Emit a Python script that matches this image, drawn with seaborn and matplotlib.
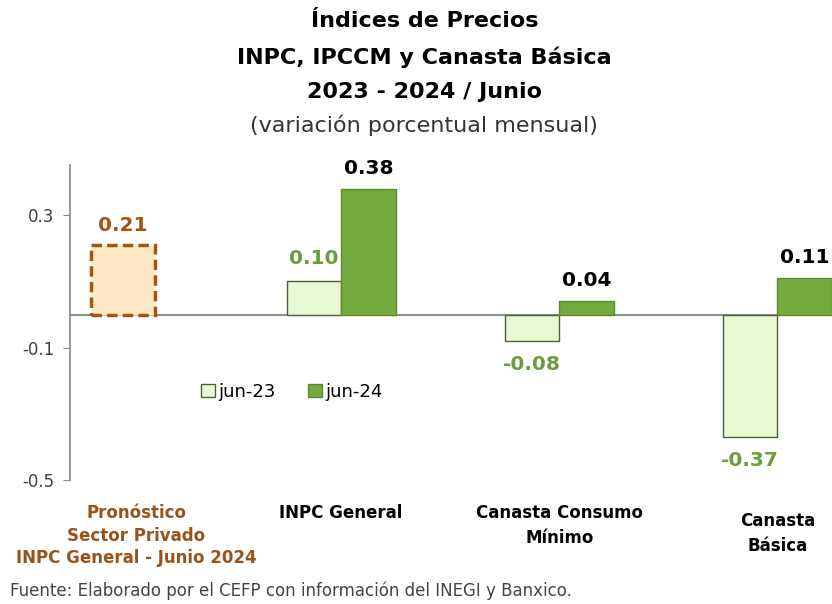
import pandas as pd
import numpy as np
import matplotlib
matplotlib.use("Agg")
import matplotlib.pyplot as plt
import matplotlib.transforms as mtransforms
import seaborn as sns
from matplotlib.patches import Patch

# datos
forecast_label = "Pronóstico\nSector Privado\nINPC General - Junio 2024"
forecast_value = 0.21
categories = ["INPC General", "Canasta Consumo\nMínimo", "Canasta\nBásica"]
jun23 = [0.10, -0.08, -0.37]
jun24 = [0.38, 0.04, 0.11]
series = ["jun-23", "jun-24"]
yticks = [0.3, -0.1, -0.5]

df = pd.DataFrame({
    "categoria": categories * 2,
    "valor": jun23 + jun24,
    "serie": [series[0]] * 3 + [series[1]] * 3,
})
order = [forecast_label] + categories

light = "#e8f8d2"
dark = "#74ab3f"
brown = "#a65410"
brown_txt = "#9a5218"
green_txt = "#6a9e3a"

sns.set_style("white")
plt.rcParams["font.family"] = ["DejaVu Sans"]
plt.rcParams["text.color"] = "black"

fig = plt.figure(figsize=(8.32, 6.04), dpi=100)
ax = fig.add_axes([70 / 832, 0.205, 1 - 70 / 832, 0.521])

sns.barplot(data=df, x="categoria", y="valor", hue="serie", order=order,
            hue_order=series, palette=[light, dark], width=0.5, ax=ax,
            legend=False, saturation=1)

edge_cols = ["#4f5f3a", "#5c8a30"]
for cont, ec in zip(ax.containers, edge_cols):
    for bar in cont:
        bar.set_edgecolor(ec)
        bar.set_linewidth(1.0)

ax.bar_label(ax.containers[0], fmt="%.2f", padding=10, color=green_txt,
             fontsize=14.5, fontweight="bold")
ax.bar_label(ax.containers[1], fmt="%.2f", padding=8, color="black",
             fontsize=14.5, fontweight="bold")

# pronostico
fb = ax.bar([0], [forecast_value], width=0.29, color="#fde9c6",
            edgecolor=brown, linewidth=2.5, linestyle=(0, (3, 1.5)))
ax.bar_label(fb, fmt="%.2f", padding=7, color=brown, fontsize=14.5,
             fontweight="bold")

ax.axhline(0, color="#8a9688", linewidth=1.5, zorder=0.5)
ax.set_xlim(-0.243, 3.25)
ax.set_ylim(-0.5, 0.45)
ax.set_yticks(yticks)
ax.set_yticklabels([f"{v:.1f}" for v in yticks], fontsize=12, color="#404040")
ax.tick_params(axis="y", left=True, length=5, color="#7f8f7f", pad=6)
ax.set_xticks(range(len(order)))
ax.set_xticklabels(order, fontsize=12, fontweight="bold", color="black",
                   linespacing=1.5)
ax.tick_params(axis="x", bottom=False, pad=14)
xl = ax.get_xticklabels()
xl[0].set_color(brown_txt)
xl[0].set_linespacing(1.3)
xl[0].set_transform(xl[0].get_transform() +
                    mtransforms.ScaledTranslation(0.13, 0, fig.dpi_scale_trans))
xl[3].set_transform(xl[3].get_transform() +
                    mtransforms.ScaledTranslation(0, -0.08, fig.dpi_scale_trans))
ax.set_xlabel("")
ax.set_ylabel("")
for s in ["top", "right", "bottom"]:
    ax.spines[s].set_visible(False)
ax.spines["left"].set_color("#7f8f7f")
ax.spines["left"].set_linewidth(1.2)

handles = [Patch(facecolor=light, edgecolor=edge_cols[0]),
           Patch(facecolor=dark, edgecolor=edge_cols[1])]
ax.legend(handles, series, loc="center", bbox_to_anchor=(0.351, 0.351),
          bbox_transform=fig.transFigure, ncol=2, frameon=False,
          fontsize=13, handlelength=0.75, handleheight=0.75,
          handletextpad=0.2, columnspacing=1.8)

fig.text(0.51, 0.965, "Índices de Precios", ha="center", va="center",
         fontsize=16, fontweight="bold")
fig.text(0.51, 0.905, "INPC, IPCCM y Canasta Básica", ha="center",
         va="center", fontsize=16, fontweight="bold")
fig.text(0.51, 0.848, "2023 - 2024 / Junio", ha="center", va="center",
         fontsize=16, fontweight="bold")
fig.text(0.51, 0.792, "(variación porcentual mensual)", ha="center",
         va="center", fontsize=16, color="#333333")
fig.text(0.012, 0.022, "Fuente: Elaborado por el CEFP con información del INEGI y Banxico.",
         fontsize=12, color="#444444", va="center")

fig.savefig("out.png", dpi=100)
